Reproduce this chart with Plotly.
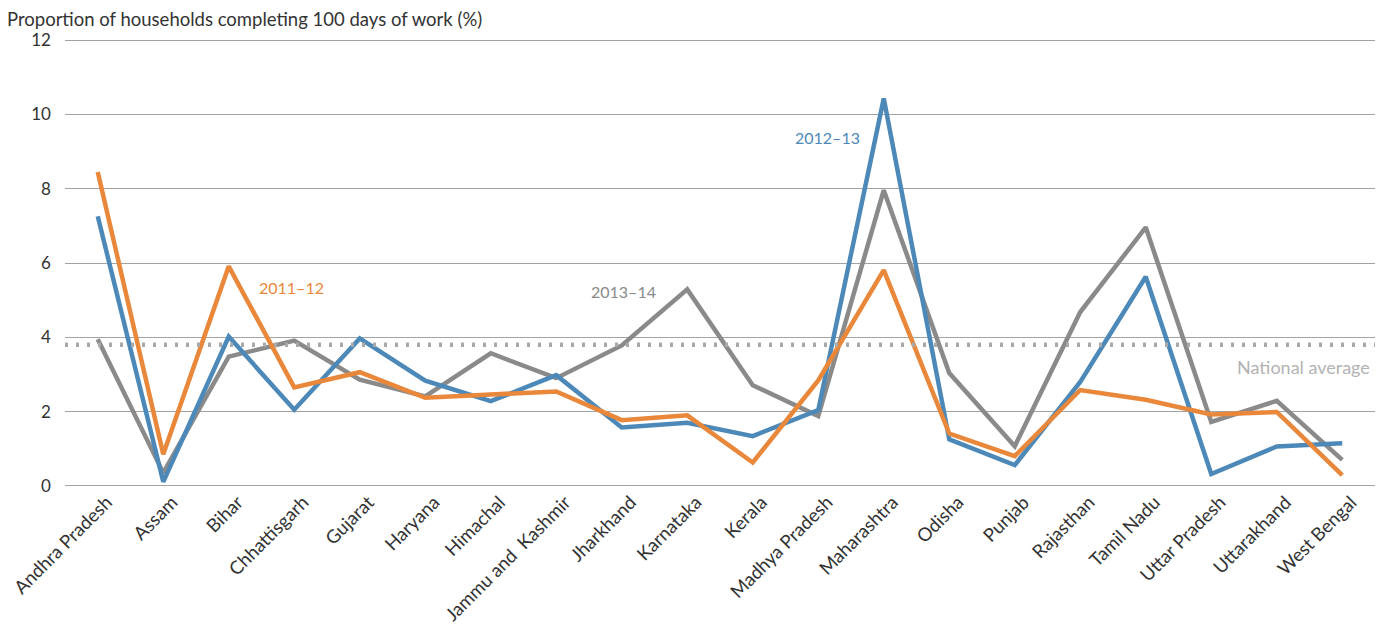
import plotly.graph_objects as go

STATES = ["Andhra Pradesh", "Assam", "Bihar", "Chhattisgarh", "Gujarat", "Haryana",
          "Himachal", "Jammu and  Kashmir", "Jharkhand", "Karnataka", "Kerala",
          "Madhya Pradesh", "Maharashtra", "Odisha", "Punjab", "Rajasthan",
          "Tamil Nadu", "Uttar Pradesh", "Uttarakhand", "West Bengal"]

Y_2011_12 = [8.45, 0.85, 5.91, 2.65, 3.06, 2.37, 2.46, 2.54, 1.77, 1.90, 0.63,
             2.84, 5.81, 1.41, 0.80, 2.58, 2.32, 1.92, 1.99, 0.29]
Y_2012_13 = [7.26, 0.11, 4.02, 2.05, 3.97, 2.83, 2.28, 2.98, 1.57, 1.70, 1.34,
             2.04, 10.43, 1.25, 0.56, 2.80, 5.63, 0.32, 1.06, 1.15]
Y_2013_14 = [3.95, 0.35, 3.48, 3.91, 2.86, 2.41, 3.57, 2.90, 3.78, 5.29, 2.71,
             1.88, 7.96, 3.04, 1.07, 4.68, 6.96, 1.72, 2.29, 0.70]
NATIONAL_AVG = 3.8

BLUE = "#4d89b8"
ORANGE = "#e9873a"
GREY = "#8a8a8a"
FONT = "Lato"

# page body has an 8px margin; plot area should land on x 65..1375, y 39..487
PW, PH = 1310, 448

fig = go.Figure()
for name, ys, col in [("2013–14", Y_2013_14, GREY),
                      ("2012–13", Y_2012_13, BLUE),
                      ("2011–12", Y_2011_12, ORANGE)]:
    fig.add_trace(go.Scatter(x=STATES, y=ys, mode="lines", name=name,
                             line=dict(color=col, width=4.5)))

# national average dotted line across the plot
fig.add_shape(type="line", xref="paper", x0=0, x1=1, yref="y",
              y0=NATIONAL_AVG, y1=NATIONAL_AVG,
              line=dict(color="#a9a9a9", width=4.5, dash="3px,8px"))

# series labels
fig.add_annotation(x=2.43, y=5.35, text="2011–12", showarrow=False,
                   xanchor="left", font=dict(color=ORANGE, size=16, family=FONT))
fig.add_annotation(x=7.5, y=5.24, text="2013–14", showarrow=False,
                   xanchor="left", font=dict(color=GREY, size=16, family=FONT))
fig.add_annotation(x=10.62, y=9.38, text="2012–13", showarrow=False,
                   xanchor="left", font=dict(color=BLUE, size=16, family=FONT))
fig.add_annotation(x=1 - 3 / PW, xref="paper", y=NATIONAL_AVG - 0.6,
                   text="National average", showarrow=False, xanchor="right",
                   font=dict(color="#b3b3b3", size=18, family=FONT))

# axis title at top left
fig.add_annotation(x=-60 / PW, xref="paper", xanchor="left",
                   y=1 + 20 / PH, yref="paper", yanchor="middle",
                   text="Proportion of households completing 100 days of work (%)",
                   showarrow=False, font=dict(size=18.5))

fig.update_layout(
    width=1382, height=625, showlegend=False,
    paper_bgcolor="white", plot_bgcolor="white",
    margin=dict(l=57, r=15, t=31, b=146),
    font=dict(family=FONT, size=16, color="#333333"),
)

fig.update_xaxes(range=[-0.5, 19.5], tickangle=-45, showgrid=False,
                 showline=False, ticks="", tickfont=dict(size=18.5),
                 ticklabelshift=9, automargin=False)
fig.update_yaxes(range=[-0.03, 12.03], dtick=2, showgrid=True, gridcolor="#a3a3a3",
                 gridwidth=1.2, zeroline=False, showline=False, ticks="",
                 ticksuffix="   ", tickfont=dict(size=17), automargin=False)

fig.write_html("out.html")
